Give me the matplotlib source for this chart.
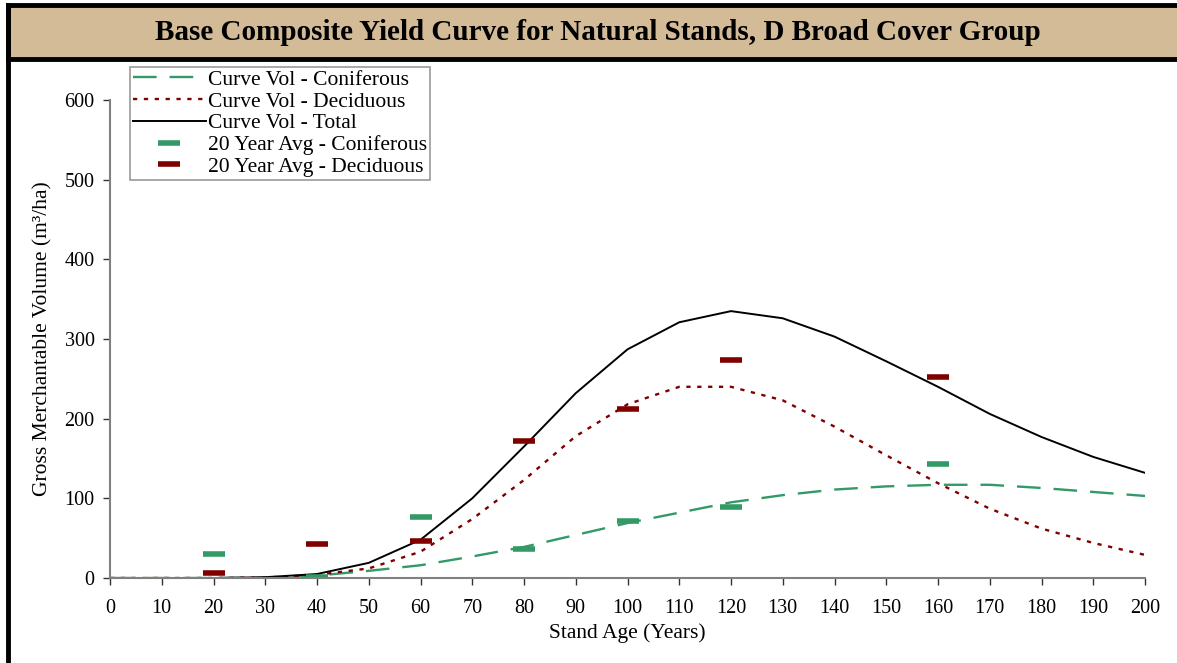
import matplotlib
matplotlib.use("Agg")
import matplotlib.pyplot as plt
from matplotlib.patches import Rectangle
from matplotlib.lines import Line2D

ages = [0, 10, 20, 30, 40, 50, 60, 70, 80, 90, 100, 110, 120, 130, 140, 150,
        160, 170, 180, 190, 200]
vol_conif = [0, 0, 0, 0.5, 3, 9, 16, 27, 39, 54, 69, 82, 95, 104, 111, 115,
             117, 117, 113, 108, 103]
vol_decid = [0, 0, 0, 0.5, 4, 12, 33, 74, 123, 178, 218, 240, 240, 223, 190,
             154, 119, 87, 62, 44, 29]
vol_total = [0, 0, 0, 1, 5, 19, 48, 100, 165, 232, 287, 321, 335, 326, 303,
             272, 240, 206, 177, 152, 132]

avg_ages = [20, 40, 60, 80, 100, 120, 160]
avg_conif = [30, 1, 77, 37, 72, 89, 143]
avg_decid = [6, 43, 47, 172, 212, 274, 252]

GREEN = "#339966"
RED = "#800000"
GREY = "#808080"

plt.rcParams["font.family"] = ["Liberation Serif", "DejaVu Serif"]

fig = plt.figure(figsize=(11.77, 6.63), dpi=100)
ax = fig.add_axes([110 / 1177, 1 - 578 / 663, 1035 / 1177, 478 / 663])

# title band and frame
fig.add_artist(Rectangle((8 / 1177, 1 - 59 / 663), 1.0, 54 / 663,
                         transform=fig.transFigure, facecolor="#d3bb97",
                         edgecolor="black", linewidth=3.5, clip_on=False))
fig.add_artist(Line2D([8 / 1177, 8 / 1177], [0, 1 - 5 / 663],
                      transform=fig.transFigure, color="black", linewidth=3.5))
fig.text(0.508, 1 - 33 / 663,
         "Base Composite Yield Curve for Natural Stands, D Broad Cover Group",
         ha="center", va="center", fontsize=21, fontweight="bold")

ax.plot(ages, vol_conif, color=GREEN, linewidth=1.7, dashes=(10, 5.5),
        label="Curve Vol - Coniferous")
ax.plot(ages, vol_decid, color=RED, linewidth=1.7, dashes=(1.8, 2.8),
        label="Curve Vol - Deciduous")
ax.plot(ages, vol_total, color="black", linewidth=1.4,
        label="Curve Vol - Total")
ax.plot(avg_ages, avg_conif, linestyle="none", marker="_", markersize=16,
        markeredgewidth=4, color=GREEN, label="20 Year Avg - Coniferous")
ax.plot(avg_ages, avg_decid, linestyle="none", marker="_", markersize=16,
        markeredgewidth=4, color=RED, label="20 Year Avg - Deciduous")

ax.set_xlim(0, 200)
ax.set_ylim(0, 600)
ax.set_xticks(range(0, 201, 10))
ax.set_yticks(range(0, 601, 100))
for side in ("top", "right"):
    ax.spines[side].set_visible(False)
for side in ("left", "bottom"):
    ax.spines[side].set_color(GREY)
    ax.spines[side].set_linewidth(1.5)
ax.tick_params(direction="out", length=5, width=1, color="#333333",
               labelsize=14.5)
ax.tick_params(axis="x", pad=10)
ax.tick_params(axis="y", pad=6)
ax.set_xlabel("Stand Age (Years)", fontsize=15.5, labelpad=4)
ax.set_ylabel("Gross Merchantable Volume (m³/ha)", fontsize=15.5,
              labelpad=9)

leg = ax.legend(loc="upper left", bbox_to_anchor=(0.019, 1.07), fontsize=15.5,
                frameon=True, fancybox=False, handlelength=3.4,
                handletextpad=0.08, labelspacing=0.08, borderpad=0.15,
                borderaxespad=0)
leg.get_frame().set_edgecolor(GREY)
leg.get_frame().set_linewidth(1.2)

fig.savefig("out.png", dpi=100)
